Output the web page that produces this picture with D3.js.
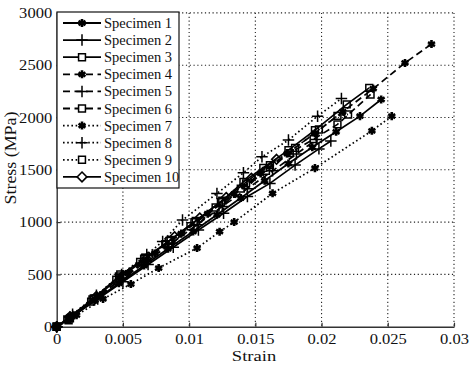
<!DOCTYPE html>
<html>
<head>
<meta charset="utf-8">
<script src="https://cdn.jsdelivr.net/npm/d3@7"></script>
<style>
  body { margin: 0; background: #fff; }
  svg text { font-family: "Liberation Serif", "Times New Roman", Times, "DejaVu Serif", "Noto Serif", serif; fill: #111; }
</style>
</head>
<body>
<div id="canvas"></div>
<script>
// DATA (strain, stress in MPa)
const names = ["Specimen 1", "Specimen 2", "Specimen 3", "Specimen 4", "Specimen 5",
               "Specimen 6", "Specimen 7", "Specimen 8", "Specimen 9", "Specimen 10"];
const lineKinds = ["solid", "solid", "solid", "dashed", "dashed", "dashed", "dotted", "dotted", "dotted", "solid"];
const markerKinds = ["star", "plus", "square", "star", "plus", "square", "star", "plus", "square", "diamond"];

const spec1 = [[0,0],[0.0011,95],[0.0029,255],[0.0047,415],[0.0066,585],[0.0084,745],[0.0103,910],[0.0121,1070],[0.0139,1230],[0.0157,1395],[0.0175,1560],[0.0193,1715],[0.0211,1863],[0.0229,2013],[0.0245,2172]];
const spec2 = [[0,0],[0.0012,100],[0.0031,265],[0.0050,430],[0.0069,595],[0.0088,760],[0.0107,925],[0.0126,1085],[0.0144,1245],[0.0161,1370],[0.0180,1545],[0.0198,1700],[0.0207,1775]];
const spec3 = [[0,0],[0.0008,70],[0.0027,260],[0.0047,480],[0.0067,660],[0.0085,820],[0.0105,1010],[0.0125,1205],[0.0141,1385],[0.0156,1519],[0.0175,1688],[0.0195,1879],[0.0219,2125],[0.0236,2283]];
const spec4 = [[0,0],[0.0013,110],[0.0033,300],[0.0054,510],[0.0074,700],[0.0094,890],[0.0114,1080],[0.0134,1270],[0.0154,1465],[0.0174,1655],[0.0195,1850],[0.0216,2055],[0.0239,2275],[0.0263,2522],[0.0283,2702]];
const spec5 = [[0,0],[0.0010,90],[0.0029,270],[0.0049,455],[0.0068,625],[0.0087,800],[0.0106,975],[0.0125,1150],[0.0144,1320],[0.0163,1490],[0.0181,1650],[0.0196,1790]];
const spec6 = [[0,0],[0.0009,60],[0.0026,240],[0.0045,450],[0.0063,620],[0.0082,790],[0.0101,960],[0.0120,1140],[0.0139,1320],[0.0158,1490],[0.0176,1660],[0.0194,1793],[0.0212,1934],[0.0237,2220]];
const spec7 = [[0,0],[0.0015,110],[0.0035,265],[0.0056,408],[0.0077,561],[0.0106,752],[0.0123,908],[0.0134,1000],[0.0163,1275],[0.0195,1516],[0.0238,1873],[0.0253,2013]];
const spec8 = [[0,0],[0.0012,120],[0.0030,300],[0.0049,500],[0.0068,690],[0.0080,815],[0.0095,1019],[0.0121,1274],[0.0141,1471],[0.0155,1624],[0.0175,1784],[0.0197,2013],[0.0215,2182]];
const spec9 = [[0,0],[0.0010,80],[0.0028,270],[0.0048,500],[0.0066,650],[0.0086,830],[0.0104,1000],[0.0124,1190],[0.0143,1370],[0.0161,1545],[0.0180,1710],[0.0198,1885],[0.0212,2016],[0.0220,2029]];
const spec10 = [[0,0],[0.0010,95],[0.0030,290],[0.0050,490],[0.0069,665],[0.0089,860],[0.0108,1040],[0.0128,1235],[0.0147,1420],[0.0166,1600]];
const series = [spec1, spec2, spec3, spec4, spec5, spec6, spec7, spec8, spec9, spec10];

const xTicks = [0, 0.005, 0.01, 0.015, 0.02, 0.025, 0.03];
const yTicks = [0, 500, 1000, 1500, 2000, 2500, 3000];

// DIMENSIONS
const width = 472, height = 365;
const plotLeft = 56.7, plotRight = 454, plotTop = 12.9, plotBottom = 326.7;
const serif = "Liberation Serif, Times New Roman, Times, serif";

const svg = d3.select("#canvas").append("svg")
  .attr("width", width).attr("height", height)
  .attr("font-family", serif);

const x = d3.scaleLinear().domain([0, 0.03]).range([plotLeft, plotRight]);
const y = d3.scaleLinear().domain([0, 3000]).range([plotBottom, plotTop]);

const dashes = { solid: null, dashed: "7,4", dotted: "1.6,2.6" };
const symbols = { star: d3.symbolAsterisk, plus: d3.symbolPlus, square: d3.symbolSquare2, diamond: d3.symbolDiamond2 };
const sizes = { star: 45, plus: 45, square: 60, diamond: 60 };
const widths = { star: 2.6, plus: 1.5, square: 1.5, diamond: 1.6 };

// GRID
svg.append("g").selectAll("line")
  .data(xTicks.slice(1))
  .join("line")
  .attr("x1", d => x(d)).attr("x2", d => x(d))
  .attr("y1", plotTop).attr("y2", plotBottom)
  .attr("stroke", "#222").attr("stroke-width", 1.1).attr("stroke-dasharray", "1.2,2.6");
svg.append("g").selectAll("line")
  .data(yTicks.slice(1))
  .join("line")
  .attr("x1", plotLeft).attr("x2", plotRight)
  .attr("y1", d => y(d)).attr("y2", d => y(d))
  .attr("stroke", "#222").attr("stroke-width", 1.1).attr("stroke-dasharray", "1.2,2.6");

// AXES
const xAxis = svg.append("g")
  .attr("transform", `translate(0,${plotBottom})`)
  .call(d3.axisBottom(x).tickValues(xTicks).tickSize(-4).tickSizeOuter(0).tickPadding(7.5)
    .tickFormat(d => d === 0 ? "0" : String(+d.toFixed(3))));
const yAxis = svg.append("g")
  .attr("transform", `translate(${plotLeft},0)`)
  .call(d3.axisLeft(y).tickValues(yTicks).tickSize(-4).tickSizeOuter(0).tickPadding(4)
    .tickFormat(d3.format("d")));

[xAxis, yAxis].forEach(a => {
  a.attr("font-family", serif);
  a.select(".domain").attr("stroke", "#333").attr("stroke-width", 1.4);
  a.selectAll(".tick line").attr("stroke", "#333").attr("stroke-width", 1.2);
  a.selectAll(".tick text").attr("font-size", 14.5).attr("fill", "#111")
    .attr("transform", "scale(1.14,1)");
});

// AXIS LABELS
svg.append("text")
  .attr("text-anchor", "middle").attr("font-size", 14.5)
  .attr("transform", `translate(254,361) scale(1.28,1)`)
  .text("Strain");
svg.append("text")
  .attr("text-anchor", "middle").attr("font-size", 16)
  .attr("transform", `translate(16,158) rotate(-90) scale(1.12,1)`)
  .text("Stress (MPa)");

// LINES
const line = d3.line().x(d => x(d[0])).y(d => y(d[1]));
const plot = svg.append("g");

series.forEach((pts, i) => {
  plot.append("path")
    .attr("d", line(pts))
    .attr("fill", "none").attr("stroke", "#000").attr("stroke-width", 1.7)
    .attr("stroke-dasharray", dashes[lineKinds[i]]);
});
series.forEach((pts, i) => {
  const m = markerKinds[i];
  plot.append("g").selectAll("path")
    .data(pts)
    .join("path")
    .attr("transform", d => `translate(${x(d[0])},${y(d[1])})`)
    .attr("d", d3.symbol().type(symbols[m]).size(sizes[m]))
    .attr("fill", "none").attr("stroke", "#000").attr("stroke-width", widths[m]);
});

// LEGEND
const legend = svg.append("g");
legend.append("rect")
  .attr("x", 57).attr("y", 12).attr("width", 122).attr("height", 176)
  .attr("fill", "#fff").attr("stroke", "#111").attr("stroke-width", 1.2);

const rows = legend.selectAll("g.row")
  .data(names)
  .join("g")
  .attr("class", "row")
  .attr("transform", (d, i) => `translate(0,${23 + i * 17.1})`);

rows.append("line")
  .attr("x1", 63).attr("x2", 101).attr("y1", 0).attr("y2", 0)
  .attr("stroke", "#000").attr("stroke-width", 1.8)
  .attr("stroke-dasharray", (d, i) => lineKinds[i] === "dashed" ? "7,4.5" : lineKinds[i] === "dotted" ? "1.6,2.6" : null);
rows.append("path")
  .attr("transform", "translate(82,0)")
  .attr("d", (d, i) => d3.symbol().type(symbols[markerKinds[i]]).size(sizes[markerKinds[i]])())
  .attr("fill", "#fff").attr("stroke", "#000")
  .attr("stroke-width", (d, i) => widths[markerKinds[i]]);
rows.append("text")
  .attr("x", 104).attr("y", 5)
  .attr("font-size", 14.5)
  .text(d => d);
</script>
</body>
</html>
